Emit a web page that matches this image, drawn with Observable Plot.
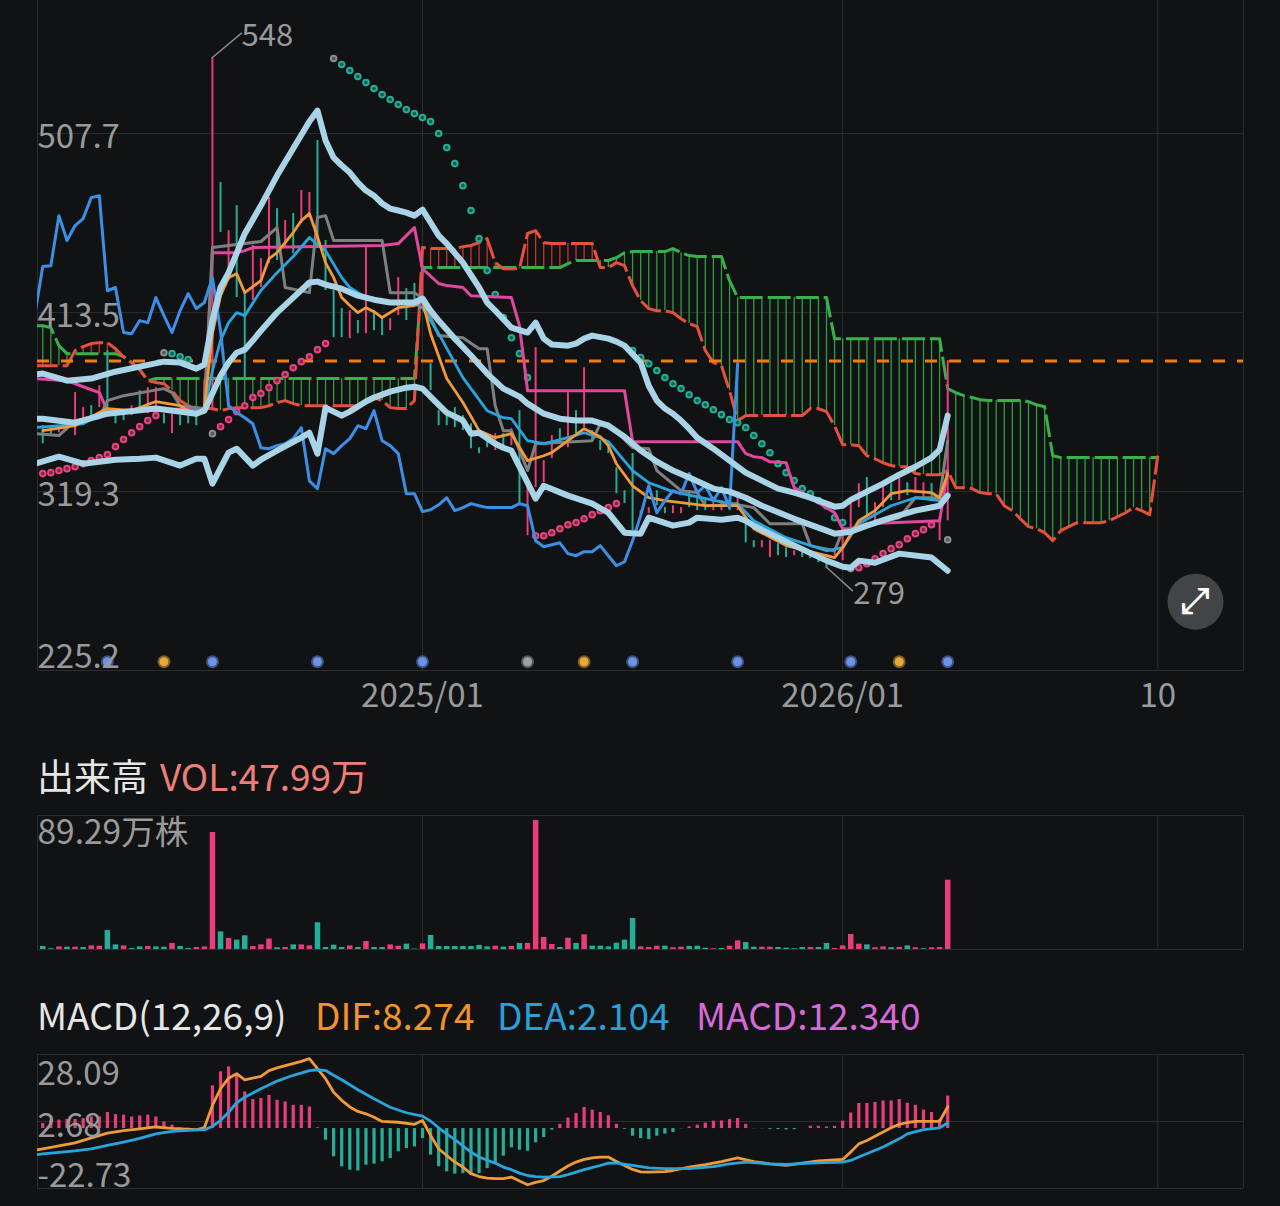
<!DOCTYPE html>
<html><head><meta charset="utf-8">
<script src="https://cdn.jsdelivr.net/npm/d3@7"></script>
<script src="https://cdn.jsdelivr.net/npm/@observablehq/plot@0.6"></script>
<style>
html,body{margin:0;padding:0;background:#111214;width:1280px;height:1206px;overflow:hidden}
body{font-family:"Noto Sans CJK JP","Noto Sans",sans-serif}
svg{display:block}
.row{position:relative;width:1280px;height:90px}
.row span{position:absolute;white-space:nowrap;line-height:40px;font-size:37px}
</style></head><body>
<div id="main"></div>
<div class="row"><span style="left:37px;top:35px;color:#e6e6e6">出来高</span><span style="left:160px;top:35px;color:#ee7f78">VOL:47.99万</span></div>
<div id="vol"></div>
<div class="row"><span style="left:37px;top:34px;color:#e6e6e6">MACD(12,26,9)</span><span style="left:315px;top:34px;color:#f0932b">DIF:8.274</span><span style="left:497px;top:34px;color:#2a9fd8">DEA:2.104</span><span style="left:696px;top:34px;color:#d86ad8">MACD:12.340</span></div>
<div id="macd"></div>
<script>
const priceTicks = [507.7, 413.5, 319.3, 225.2];
const weekTicks = [[0,"2025/01"],[52,"2026/01"],[91,"10"]];
const lastPriceLevel = 388;

// Candles, weeks -47 .. 65
const candleHigh = [354,354,354,356.7,371.4,363.5,364.5,375,393.5,361.9,
361.9,364.5,372.4,374,374,360.3,360.3,359.3,359.3,359.3,
377.7,547.7,481.9,456.6,469.8,423.5,448.8,441.9,474,468.2,
461.9,465.6,477.7,476.7,504,451.4,425.1,415.6,414.5,409.3,
447.7,414.5,410.9,410.3,431.9,426.1,428.8,438.2,386.6,361.9,
361.9,363.5,359.3,355,342.4,347.7,349.8,349.8,352.4,361.9,
321.4,395.1,335.6,348.8,352.4,371.4,361.9,384.5,351.4,346.1,
344.5,331.9,319.8,339.3,309.3,310.9,319.8,310.9,311.9,310.9,
319.8,317.2,316.1,316.1,314.6,314.6,318.2,302.4,293.5,293.5,
293.5,291.9,289.8,288.2,288.2,287.2,285.6,281.4,289.3,298.8,
313.5,323.5,326.7,313.5,322.4,323.5,326.7,324,326.7,324,
323.5,305.6,388.2];
const candleLow = [344.5,348.8,350.3,351.4,348.8,356.7,357.7,363.5,363.5,355,
356.7,359.3,360.9,360.3,360.3,355,349.8,354,355,354,
361.9,361.9,455.6,430.3,421.4,377.7,419.8,426.7,439.3,440.9,
447.7,444.5,460.3,463.5,447.7,425.1,400.3,400.3,399.8,402.4,
402.4,404,401.4,404,411.9,409.3,418.2,417.2,372.4,354,
354,353,351.4,341.9,339.3,342.4,340.9,343.5,343.5,313,
296.1,321.4,324,336.6,345.1,342.4,349.8,353,346.1,340.9,
339.3,318.2,313,298.8,306.7,307.7,311.9,307.7,307.7,307.7,
310.9,309.3,309.3,309.3,309.3,309.3,309.3,292.4,289.8,289.8,
284.6,285.6,284.6,285.6,284.6,284,281.9,278.8,285.6,283,
297.2,310.9,305.6,304,310.9,314.6,314.6,317.2,318.2,316.1,
314.6,293.5,304];
const candleUp = [0,0,1,0,1,1,0,1,0,0,
0,1,0,1,1,0,1,0,0,0,
1,1,0,1,0,0,1,1,1,0,
1,0,1,1,0,0,0,0,1,0,
1,0,0,1,1,0,0,1,0,0,
0,0,0,0,0,0,1,0,1,0,
1,1,1,1,0,1,0,1,0,0,
0,0,0,0,1,1,0,0,1,1,
0,0,0,1,1,0,1,0,0,1,
1,0,0,1,0,0,0,0,1,1,
1,1,0,1,1,0,1,0,1,1,
0,1,1];

// Ichimoku leading spans, weeks -48 .. 91
const spanA = [406.6,406.6,405.6,396.1,391.9,391.9,391.9,391.9,391.9,391.9,
391.9,390.3,387.2,383.5,377.7,378.8,378.8,378.8,378.8,378.8,
378.8,378.8,378.8,378.8,378.8,378.8,378.8,378.8,378.8,378.8,
378.8,378.8,378.8,378.8,378.8,378.8,378.8,378.8,378.8,378.8,
378.8,378.8,378.8,378.8,378.8,378.8,378.8,378.8,437.2,437.2,
437.2,437.2,437.2,437.2,437.2,437.2,437.2,437.2,437.2,437.2,
437.2,437.2,437.2,437.2,437.2,437.2,439.3,440.9,440.9,440.9,
440.9,440.9,442.4,445,445.6,445.6,445.6,445.6,445.6,447.2,
445,443.5,443,443,443,443,430.3,421.4,421.4,421.4,
421.4,421.4,421.4,421.4,421.4,421.4,421.4,421.4,421.4,399.8,
399.8,399.8,399.8,399.8,399.8,399.8,399.8,399.8,399.8,399.8,
399.8,399.8,399.8,373.5,371.4,369.8,368.8,367.7,367.2,367.2,
367.2,367.2,367.2,366.7,365,364,338.2,337.2,337.2,337.2,
337.2,337.2,337.2,337.2,337.2,337.2,337.2,337.2,337.2,337.2];
const spanB = [385.6,385.6,385.6,385.6,385.6,393.5,395.6,397.2,397.7,397.7,
394.5,390.3,387.2,383.5,377.7,376.7,376.1,372.4,367.2,364.5,
363,363,363,361.9,363,363.5,363.5,363.5,363.5,364.5,
366.1,367.2,365.6,364.5,364.5,364.5,364.5,364.5,364.5,364.5,
364.5,367.2,368.8,367.2,363.5,363,363,367.2,447.7,447.2,
447.2,447.2,447.2,448.2,448.8,450.3,452.4,439.8,436.6,436.6,
436.6,455.1,456.6,450.3,449.8,449.8,449.8,449.8,449.8,449.8,
437.2,437.2,439.8,438.2,427.7,419.8,415.6,414.5,414.5,413.5,
410.3,407.7,406.1,393.5,387.2,385.6,372.4,356.7,359.3,359.3,
359.3,359.3,359.3,359.3,359.3,359.3,363,363,361.4,354,
344,344,343.5,338.2,336.6,334.5,333,332.4,332.4,328.8,
328.2,328.2,328.2,330.4,321.4,321.4,320.9,318.8,318.2,318.2,
311.9,309.3,305,300.9,299.8,297.7,293.5,298.8,300.9,303,
303,303,303,304,306.1,308.2,310.9,309.3,307.2,338.2];

// Lines as [week, price]
const chikou = [[-48,411.9],[-47,437.7],[-46,438.2],[-45,464.5],[-44,451.4],[-43,459.3],[-42,463],[-41,474],[-40,475],[-39,425],[-38,426.7],[-37,403],[-36,402.4],[-35,409.3],[-34,408.2],[-33,421.4],[-32,411.9],[-31,403],[-30,414.5],[-29,423.5],[-28,415.6],[-27,418.8],[-26,431.9],[-25,404],[-24,364.5],[-23,360.9],[-22,358.2],[-21,355],[-20,342.4],[-19,341.9],[-18,343.5],[-17,344.5],[-16,347.2],[-15,353],[-14,325],[-13,320.9],[-12,341.9],[-11,339.3],[-10,343.5],[-9,347.2],[-8,354],[-7,352.4],[-6,361.9],[-5,346.1],[-4,343.5],[-3,339.3],[-2,318.2],[-1,318.2],[0,308.8],[1,309.8],[2,312.4],[3,316.1],[4,309.3],[5,310.9],[6,313],[7,311.9],[8,310.9],[9,310.9],[10,310.9],[11,310.9],[12,313],[13,311.9],[14,293.5],[15,290.3],[16,291.4],[17,292.4],[18,286.7],[19,285.6],[20,287.7],[21,287.7],[22,290.9],[23,285.6],[24,280.3],[25,282.4],[26,293.5],[27,306.7],[28,322.4],[29,308.2],[30,314.6],[31,319.8],[32,318.2],[33,328.8],[34,318.8],[35,322.4],[36,314.6],[37,321.4],[38,310.9],[39,386.7]];
const bandUpper = [[-48,381],[-47,381.4],[-44,377.7],[-41,378.8],[-38,382.4],[-35,385.1],[-32,387.7],[-30,387.2],[-28,384],[-27,386.1],[-26,409.3],[-25,426.7],[-24,434.5],[-22,455],[-20,469.8],[-18,485.6],[-16,499.8],[-14,514],[-13,519.8],[-12,504],[-11,495],[-10,490.9],[-9,487.2],[-8,481.9],[-7,477.7],[-6,475],[-5,470.9],[-4,468.2],[-3,467.2],[-2,466.1],[-1,464.5],[0,467.7],[1,460.9],[2,454],[3,449.8],[5,439.8],[7,426.7],[8,418.8],[9,414.5],[11,405.6],[13,403],[14,408.2],[15,399.8],[16,396.7],[18,396.1],[19,397.2],[20,399.8],[21,401.4],[23,399.8],[24,398.2],[25,396.1],[27,387.2],[28,375],[29,367.2],[30,363],[31,360.3],[32,356.7],[33,352.4],[34,347.7],[36,341.9],[38,335.6],[40,329.3],[42,325.1],[44,320.9],[46,318.8],[48,316.1],[50,313],[51,311.4],[52,311.9],[53,315],[55,319.3],[57,323.5],[59,328.2],[61,332.4],[63,337.2],[64,341.4],[65,359.3]];
const bandMiddle = [[-48,357.7],[-47,357.7],[-43,355.6],[-39,360.3],[-33,363],[-28,360.3],[-27,361.9],[-26,370.9],[-25,380.3],[-24,387.2],[-23,392.4],[-22,394],[-21,398.8],[-20,404],[-18,413.5],[-16,421.4],[-14,429.3],[-13,429.8],[-12,428.2],[-10,426.1],[-8,422.4],[-6,420.3],[-4,418.8],[-2,418.8],[-1,418.8],[0,420.9],[1,414.5],[2,409.3],[4,399.8],[6,390.9],[8,381.4],[10,373.5],[12,369.3],[13,365.6],[15,360.3],[17,357.7],[19,356.7],[21,356.7],[23,354],[25,348.2],[27,340.9],[29,335.1],[31,330.4],[33,326.7],[36,320.9],[38,319.3],[40,316.1],[42,311.9],[46,305],[50,298.8],[51,297.2],[53,298.2],[55,301.4],[58,305.6],[61,309.3],[64,311.9],[65,317.2]];
const bandLower = [[-48,334],[-45,337.7],[-42,334],[-38,336.1],[-35,336.6],[-33,337.2],[-30,333],[-28,336.6],[-27,336.6],[-26,323.5],[-24,339.8],[-23,341.9],[-21,333],[-20,336.1],[-18,340.9],[-15,347.7],[-14,350.3],[-13,339.3],[-12,363.5],[-10,359.3],[-9,361.4],[-7,366.7],[-6,368.8],[-4,371.9],[-2,374],[-1,374.5],[0,373.5],[2,365],[3,360.9],[5,356.7],[6,349.8],[7,350.3],[9,344.5],[10,342.4],[11,340.9],[14,315.6],[15,322.4],[18,317.2],[21,313],[23,308.2],[25,297.7],[27,297.2],[28,305.6],[31,301.4],[33,303],[34,305.6],[37,304.5],[39,305.6],[40,304],[41,301.4],[45,293],[50,283],[51,281.4],[52,279.8],[53,279.3],[54,283],[56,281.9],[59,286.7],[63,284.6],[65,277.7]];
const kijun = [[-48,378.8],[-44,377.7],[-42,374.5],[-40,371.4],[-39,361.9],[-27,363],[-26,445],[-23,445],[-22,446.1],[-21,447.7],[-5,448.8],[-3,449.8],[-2,454],[-1,458.2],[0,436.6],[2,428.8],[3,427.7],[5,426.7],[6,422.4],[11,421.4],[12,406.6],[13,372.4],[25,372.4],[26,345.6],[39,345.6],[40,339.3],[41,337.7],[42,337.2],[43,335],[45,334.5],[46,321.4],[47,318.8],[51,308.2],[52,299.8],[53,299.8],[55,302.4],[64,304],[65,330.4]];
const tenkan = [[-48,349.8],[-45,348.8],[-43,356.7],[-41,357.7],[-40,358.2],[-39,367.2],[-37,369.8],[-32,373.5],[-31,371.4],[-30,364.5],[-27,363],[-26,447.7],[-20,450.9],[-18,458.2],[-17,426.7],[-14,424],[-13,463.5],[-12,464.5],[-11,451.4],[-5,451.4],[-4,424],[-1,424],[0,420.9],[2,401.4],[5,400.3],[7,394.5],[8,394.5],[9,364.5],[10,351.4],[11,351.4],[13,330.4],[14,344.5],[21,346.1],[22,355],[23,355],[26,342.4],[28,341.9],[29,330.4],[32,319.8],[34,318.8],[35,311.9],[39,312.4],[41,310.9],[43,302.4],[47,302.4],[48,290.9],[51,288.2],[52,298.8],[54,300.3],[59,305.6],[61,316.1],[64,316.1],[65,346.1]];
const maOrange = [[-47,351.4],[-43,354],[-40,360.9],[-39,363],[-36,361.9],[-33,366.7],[-30,364.5],[-28,359.3],[-27,363.5],[-26,402.4],[-25,422.4],[-24,431.9],[-23,434],[-22,424],[-20,430.3],[-19,441.9],[-18,445],[-16,455.6],[-15,461.9],[-14,465.6],[-13,453.5],[-12,439.8],[-11,431.9],[-10,421.4],[-9,417.2],[-8,413.5],[-7,416.1],[-6,414],[-5,410.9],[-3,416.1],[-1,417.2],[0,419.8],[1,402.4],[3,378.8],[5,366.2],[7,351.4],[9,347.7],[11,349.8],[13,335.6],[15,338.2],[16,339.8],[18,346.1],[20,352.4],[22,348.2],[23,343.5],[24,334],[26,322.4],[28,316.1],[30,314.6],[35,311.9],[39,311.9],[41,299.8],[45,290.9],[49,286.7],[51,284.6],[52,289.8],[54,304],[56,309.3],[58,318.2],[60,319.8],[63,318.8],[64,316.1],[65,328.8]];
const maCyan = [[-48,353],[-42,355],[-39,361.9],[-27,361.9],[-26,383],[-25,398.8],[-24,408.2],[-23,413.5],[-22,411.9],[-20,425.1],[-18,434.5],[-16,443],[-14,453],[-13,449.3],[-12,446.1],[-10,431.9],[-9,426.7],[-7,421.4],[-3,418.2],[-1,418.2],[0,416.1],[2,402.4],[5,379.3],[8,361.9],[10,358.2],[11,357.7],[13,346.1],[15,344.5],[18,347.7],[20,350.3],[22,347.7],[23,345.6],[26,330.4],[28,324],[31,319.3],[38,313],[39,313],[41,304],[45,295.1],[50,288.2],[52,289.8],[54,302.4],[58,311.9],[61,316.1],[64,314.6],[65,318.2]];

// Parabolic SAR dots as [week, price]
const sarTeal = [[-31,391.9],[-30,390.3],[-29,388.8],
[-10,544],[-9,540.9],[-8,537.7],[-7,534.5],[-6,531.4],[-5,528.2],[-4,525.6],[-3,523],[-2,520.3],[-1,518.2],[0,516.1],[1,514],[2,507.7],[3,500.3],[4,491.9],[5,480.3],[6,467.2],[7,452.4],[8,435.6],[9,423],[10,410.9],[11,400.3],[12,391.9],[13,379.3],
[26,393.5],[27,389.8],[28,386.6],[29,383],[30,379.3],[31,376.1],[32,373.5],[33,370.3],[34,367.2],[35,365],[36,362.4],[37,359.8],[38,357.2],[39,355.6],[40,353],[41,348.8],[42,344.5],[43,339.8],[44,334],[45,329.3],[46,325.1],[47,320.9],[48,318.2],[49,314.6],[50,311.9],[51,305.6],[52,303]];
const sarPink = [[-47,328.8],[-46,329.3],[-45,330.4],[-44,331.4],[-43,332.4],[-42,334],[-41,335.6],[-40,337.2],[-39,338.8],[-38,343],[-37,346.7],[-36,350.3],[-35,353.5],[-34,356.7],[-33,359.3],
[-25,353.5],[-24,357.2],[-23,361.4],[-22,364.5],[-21,368.8],[-20,370.9],[-19,374],[-18,377.7],[-17,380.9],[-16,384.5],[-15,387.7],[-14,390.3],[-13,394],[-12,397.2],
[14,296.1],[15,296.1],[16,297.7],[17,299.8],[18,301.9],[19,303],[20,305],[21,307.2],[22,309.3],[23,310.9],[24,313],
[54,279.3],[55,281.4],[56,284],[57,286.7],[58,289.3],[59,291.4],[60,294.5],[61,297.2],[62,299.3],[63,301.9]];
const sarGray = [[-32,392.4],[-11,547.2],[-26,349.8],[53,278.8],[65,294]];

// Signal markers along the bottom of the price panel
const signalLevel = 229.8;
const signalBlue = [-39,-26,-13,0,26,39,53,65];
const signalGold = [-32,20,59];
const signalGray = [13];

// Peak and trough callouts
const highLabel = {text:"548", from:[-26,547.7], to:[-22.4,560.5]};
const lowLabel = {text:"279", from:[50,279.5], to:[53.2,267.2]};
const expandAt = [95.67,261.4];

// Volume (万株), weeks -47 .. 65
const volumeTop = 92.75;
const volumeLabel = "89.29万株";
const volume = [2.1,0.5,1.8,1.6,1.6,1.4,2.5,2.3,13.1,3.2,
2.5,0.7,1.8,2.1,1.8,1.6,4.2,2.1,0.7,1.4,
1.8,81,12.2,7.6,6.5,9.5,2.1,3.2,7.2,1.2,
1.4,3.2,3.2,2.5,18.5,1.4,3,1.4,2.5,1.4,
5.5,1.4,1.4,3.2,2.3,3.7,0.3,3.9,9.7,2.1,
2.1,2.1,2.1,2.1,2.8,1.8,2.3,1.6,2.1,4.2,
4.2,89.29,8.3,3.5,1.4,7.8,4.2,10.2,2.3,2.3,
1.8,4.4,6.5,21.5,1.8,1.4,2.3,2.3,1.2,1.6,
2.1,2.3,0.9,0.5,0.7,2.3,6,4.8,1.6,1.6,
1.6,1.4,0.9,0.5,1.4,1.4,1.4,4.2,0.7,2.5,
10.4,3.7,3.2,1.2,1.8,1.2,1.4,2.5,1.2,0.5,
1.2,1.4,47.99];
const volumeUp = [0,0,1,0,1,0,1,1,0,0,
1,0,0,1,0,0,1,0,0,1,
1,1,0,1,0,0,1,1,1,0,
1,0,1,1,0,0,0,0,1,0,
1,0,0,1,1,0,0,1,0,0,
0,0,0,0,0,0,1,0,1,0,
1,1,1,1,0,1,0,1,0,0,
0,0,0,0,1,1,1,0,1,1,
0,0,0,1,0,1,1,0,0,1,
1,0,0,0,0,1,0,0,1,1,
1,1,0,1,1,0,1,0,1,0,
1,1,1];

// MACD, weeks -47 .. 65
const macdTicks = [28.09,2.68,-22.73];
const macdHist = [1.9,3.2,3.2,3.5,3.5,3.8,4.4,4.4,6.1,5.3,
5.1,4.4,4.8,5.1,4.4,2.5,1.3,0.3,0.1,0,
0.6,16.2,21.5,23.4,20.6,13.9,11,11.4,12.6,10.7,
10.1,8.8,8.8,8.2,0.3,-4.4,-10.7,-14.5,-15.8,-16.1,
-13.9,-13.5,-12.6,-11.4,-8.8,-7.6,-7,-3.8,-10.1,-14.5,
-16.4,-17.3,-17.1,-17.7,-17.1,-15.2,-13.3,-10.5,-7.3,-8.2,
-8.6,-5.4,-3.4,-0.6,1.6,4,5.7,8,7,6.1,
4.9,1.6,-0.3,-2.9,-3.8,-4.2,-2.9,-2.1,-1.5,-0.1,
0.6,1.3,2.1,2.8,2.9,3.4,3.8,1.6,-0.1,-0.1,
-0.3,-0.4,-0.5,-0.4,0,0.9,0.9,0.6,0.8,2.8,
5.9,9.5,9.5,9.9,10.5,10.5,11,9.6,8.8,7,
6.1,3.5,12.34];
const dif = [[-48,-8.2],[-47,-7.7],[-45,-6.6],[-43,-5.4],[-41,-3.5],[-39,-1.7],[-37,-0.8],[-35,-0.1],[-33,0.6],[-31,0.1],[-28,-0.4],[-27,0.3],[-26,8.8],[-25,15.1],[-24,19.1],[-23,20.8],[-22,18.5],[-20,19.8],[-19,22],[-18,23],[-15,25.5],[-14,26.5],[-13,22.7],[-12,18.9],[-11,13.8],[-10,10.7],[-9,8.2],[-8,6.5],[-7,5.6],[-6,4.3],[-5,2.7],[-3,2.4],[-1,1.6],[0,3.1],[1,-2.6],[2,-7.7],[3,-10.2],[4,-12.7],[5,-14.6],[6,-17.1],[7,-18.2],[8,-18.8],[9,-19],[10,-19],[11,-18.4],[12,-19.9],[13,-21.3],[14,-20.4],[15,-19.7],[16,-18.1],[17,-16.1],[18,-14.2],[19,-12.7],[20,-11.7],[21,-11.1],[22,-10.8],[23,-10.8],[24,-12.5],[25,-14],[26,-15.5],[27,-16.4],[28,-16.5],[30,-16.3],[31,-15.9],[33,-14.6],[35,-13.7],[37,-12.5],[39,-11.1],[41,-12.5],[43,-13.4],[45,-14],[47,-13.1],[49,-12.3],[52,-11.7],[53,-8.9],[54,-5.8],[55,-4.5],[57,-1.3],[58,0.3],[59,1.6],[60,2.3],[61,2.7],[64,2.7],[65,8.274]];
const dea = [[-48,-10],[-47,-9.6],[-43,-8.5],[-41,-7.7],[-39,-6.4],[-37,-5.1],[-35,-3.7],[-33,-2],[-31,-1.1],[-29,-0.7],[-27,-0.4],[-26,0.8],[-25,3.1],[-24,6.2],[-23,9.8],[-22,11.9],[-20,15.1],[-18,18],[-16,20.2],[-14,22],[-13,22.3],[-12,22],[-11,20.2],[-10,18.5],[-8,14.7],[-6,11.3],[-4,8.1],[-2,6],[0,4.7],[1,2.8],[2,0.3],[3,-2],[4,-4.2],[5,-6.6],[6,-8.9],[7,-10.8],[8,-12],[9,-13.1],[10,-14.6],[11,-15.6],[12,-16.9],[13,-17.8],[14,-18.2],[15,-18.4],[17,-18.2],[18,-17.5],[20,-15.6],[22,-14],[23,-13.1],[24,-13.1],[26,-14],[28,-14.9],[30,-15.2],[33,-15.2],[36,-14.4],[38,-13.4],[40,-12.7],[43,-13.4],[45,-13.6],[48,-13.1],[52,-12.7],[53,-12.1],[54,-10.8],[57,-7],[59,-3.9],[60,-2],[62,-0.4],[64,0.3],[65,2.104]];

// ---- build ----
const FONT = '"Noto Sans CJK JP","Noto Sans",sans-serif';
const BG = "#111214", GRID = "#2b2d2f", LABEL = "#9a9a9a";
const PINK = "#e83e78", TEAL = "#27ad97";
const xDomain = [-47.65, 101.61];
const barWeeks = d3.range(-47, 66);
const cloudWeeks = d3.range(-48, 92);
const gridWeeks = [xDomain[0], 0, 52, 91, xDomain[1]];

const candles = barWeeks.map((w,i)=>({w,high:candleHigh[i],low:candleLow[i],up:candleUp[i]}));
const cloud = cloudWeeks.map((w,i)=>({w,a:spanA[i],b:spanB[i]}));
const volumes = barWeeks.map((w,i)=>({w,v:volume[i],up:volumeUp[i]}));
const hist = barWeeks.map((w,i)=>({w,v:macdHist[i]}));

const line = (data,stroke,strokeWidth,extra={}) => Plot.line(data,{x:d=>d[0],y:d=>d[1],stroke,strokeWidth,clip:true,strokeLinejoin:"round",strokeLinecap:"round",...extra});
const tickText = (value,text,dy,size=33) => Plot.text([value],{frameAnchor:"left",y:d=>d,text:()=>text,dy,textAnchor:"start",fill:LABEL,fontSize:size,fontFamily:FONT});
const signal = (weeks,fill) => [
  Plot.dot(weeks,{x:d=>d,y:()=>signalLevel,r:6.5,fill,fillOpacity:0.5}),
  Plot.dot(weeks,{x:d=>d,y:()=>signalLevel,r:4.5,fill})
];

const base = {width:1280,marginLeft:37,marginRight:37,style:{background:"transparent",overflow:"visible"},x:{domain:xDomain,axis:null}};

document.getElementById("main").append(Plot.plot({
  ...base,height:720,marginTop:0,marginBottom:50,
  y:{domain:[225.2,577.7],axis:null},
  marks:[
    Plot.ruleY(priceTicks,{stroke:GRID}),
    Plot.ruleX(gridWeeks,{stroke:GRID}),
    Plot.ruleX(cloud.filter(d=>d.a>d.b+0.5),{x:"w",y1:"a",y2:"b",stroke:"#2f9e40",strokeWidth:1.3,clip:true}),
    Plot.ruleX(cloud.filter(d=>d.b>d.a+0.5),{x:"w",y1:"a",y2:"b",stroke:"#c8352b",strokeWidth:1.3,clip:true}),
    line(spanA.map((v,i)=>[cloudWeeks[i],v]),"#37b24a",3,{strokeDasharray:"23 5",strokeLinecap:"butt"}),
    line(spanB.map((v,i)=>[cloudWeeks[i],v]),"#e8503e",3,{strokeDasharray:"23 5",strokeLinecap:"butt"}),
    Plot.ruleY([lastPriceLevel],{stroke:"#ee7d12",strokeWidth:3,strokeDasharray:"12 12"}),
    Plot.ruleX(candles,{x:"w",y1:"low",y2:"high",stroke:d=>d.up?PINK:TEAL,strokeWidth:2}),
    Plot.dot(sarTeal,{x:d=>d[0],y:d=>d[1],r:2.8,fill:"#14594f",stroke:"#23ad95",strokeWidth:2}),
    Plot.dot(sarPink,{x:d=>d[0],y:d=>d[1],r:2.8,fill:"#7a2747",stroke:"#e8437c",strokeWidth:2}),
    Plot.dot(sarGray,{x:d=>d[0],y:d=>d[1],r:2.8,fill:"#555",stroke:"#8c8c8c",strokeWidth:2}),
    line(kijun,"#e0479e",3),
    line(tenkan,"#7f7f7f",3),
    line(maCyan,"#27a5dc",2.8),
    line(maOrange,"#f09a3a",2.8),
    line(chikou,"#3d8fe6",3),
    line(bandLower,"#a9d4e7",6),
    line(bandMiddle,"#a9d4e7",6),
    line(bandUpper,"#a9d4e7",6),
    ...signal(signalBlue,"#6b93ea"),
    ...signal(signalGold,"#e6a938"),
    ...signal(signalGray,"#a0a0a8"),
    Plot.line([highLabel.from,highLabel.to],{x:d=>d[0],y:d=>d[1],stroke:"#8a8a8a",strokeWidth:1.5}),
    Plot.line([lowLabel.from,lowLabel.to],{x:d=>d[0],y:d=>d[1],stroke:"#8a8a8a",strokeWidth:1.5}),
    Plot.text([highLabel],{x:d=>d.to[0],y:d=>d.to[1],text:"text",textAnchor:"start",dx:0,dy:3,fill:LABEL,fontSize:31,fontFamily:FONT}),
    Plot.text([lowLabel],{x:d=>d.to[0],y:d=>d.to[1],text:"text",textAnchor:"start",dx:1,dy:3,fill:LABEL,fontSize:31,fontFamily:FONT}),
    tickText(507.7,"507.7",4),
    tickText(413.5,"413.5",4),
    tickText(319.3,"319.3",4),
    tickText(225.2,"225.2",-13),
    Plot.text(weekTicks,{x:d=>d[0],frameAnchor:"bottom",text:d=>d[1],dy:36,fill:LABEL,fontSize:33,fontFamily:FONT}),
    Plot.dot([expandAt],{x:d=>d[0],y:d=>d[1],r:28,fill:"#434445"}),
    Plot.text([expandAt],{x:d=>d[0],y:d=>d[1],text:()=>"⤢",fill:"#ffffff",stroke:"#ffffff",strokeWidth:0.8,fontSize:36,fontFamily:"DejaVu Sans"})
  ]
}));

document.getElementById("vol").append(Plot.plot({
  ...base,height:150,marginTop:5,marginBottom:11,
  y:{domain:[0,volumeTop],axis:null},
  marks:[
    Plot.ruleY([0,volumeTop],{stroke:GRID}),
    Plot.ruleX(gridWeeks,{stroke:GRID}),
    Plot.ruleX(volumes,{x:"w",y1:0,y2:"v",stroke:d=>d.up?PINK:TEAL,strokeWidth:5.5}),
    Plot.text([volumeLabel],{frameAnchor:"top-left",text:d=>d,dy:5,textAnchor:"start",lineAnchor:"top",fill:LABEL,fontSize:33.5,fontFamily:FONT})
  ]
}));

document.getElementById("macd").append(Plot.plot({
  ...base,height:156,marginTop:4,marginBottom:18,
  y:{domain:[-22.73,28.09],axis:null},
  marks:[
    Plot.ruleY(macdTicks,{stroke:GRID}),
    Plot.ruleX(gridWeeks,{stroke:GRID}),
    Plot.ruleX(hist,{x:"w",y1:0,y2:"v",stroke:d=>d.v>=0?PINK:TEAL,strokeWidth:3.2}),
    line(dif,"#f09a3a",2.8),
    line(dea,"#27a5dc",2.8),
    tickText(28.09,"28.09",20),
    tickText(2.68,"2.68",5),
    tickText(-22.73,"-22.73",-12)
  ]
}));
</script>
</body></html>
